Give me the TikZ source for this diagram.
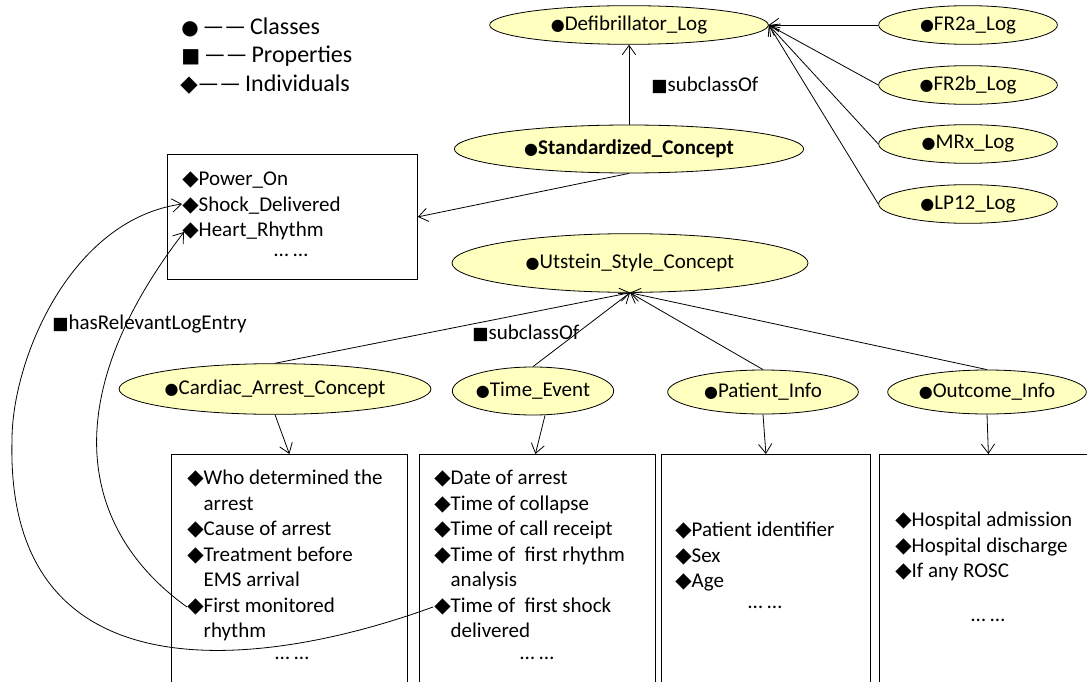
\documentclass[tikz,border=0pt]{standalone}
\usepackage{fontspec}
\setmainfont{Carlito}
\newfontfamily\symfont{DejaVu Sans}
\usetikzlibrary{shapes.geometric, positioning, arrows.meta, calc}

\definecolor{clsfill}{RGB}{255,255,192}
\newcommand\nodefont{\fontsize{15.75}{19.1}\selectfont}
\newcommand\legfont{\fontsize{18}{22}\selectfont}
\newcommand\clsmark{{\symfont\fontsize{12}{12}\selectfont ●}}
\newcommand\propmark{{\symfont\fontsize{13}{13}\selectfont ■}}
\newcommand\indmark{{\symfont\fontsize{16}{16}\selectfont ◆}}

\begin{document}
\begin{tikzpicture}[
    x=0.75pt, y=-0.75pt,
    every node/.style={font=\nodefont},
    class/.style={ellipse, draw, fill=clsfill, inner sep=0pt, line width=0.6pt},
    itembox/.style={rectangle, draw, inner sep=0pt, line width=0.6pt, anchor=north west},
    items/.style={anchor=north west, align=left, inner sep=0pt},
    rel/.style={line width=0.6pt, -{Straight Barb[length=7pt,width=10pt]}}
]
    \useasboundingbox (0,0) rectangle (1087,681);
    \clip (0,0) rectangle (1087,681);

    % legend
    \node[anchor=west, inner sep=0pt, font=\legfont] (legcls) at (181,27) {{\symfont\fontsize{15}{15}\selectfont ●}\,——\,Classes};
    \node[anchor=west, inner sep=0pt, font=\legfont] (legprop) at (181,56) {{\symfont\fontsize{15}{15}\selectfont ■}\,——\,Properties};
    \node[anchor=west, inner sep=0pt, font=\legfont] (legind) at (180,85) {{\symfont\fontsize{17}{17}\selectfont ◆}——\,Individuals};

    % classes
    \node[class, minimum width=209pt, minimum height=29pt] (defib) at (629,25) {\clsmark Defibrillator\_Log};
    \node[class, minimum width=262pt, minimum height=36pt] (std) at (629,149) {\clsmark\textbf{Standardized\_Concept}};
    \node[class, minimum width=134pt, minimum height=29pt] (fr2a) at (968,25) {\clsmark FR2a\_Log};
    \node[class, minimum width=134pt, minimum height=29pt] (fr2b) at (968,85) {\clsmark FR2b\_Log};
    \node[class, minimum width=134pt, minimum height=29pt] (mrx) at (968,144) {\clsmark MRx\_Log};
    \node[class, minimum width=134pt, minimum height=29pt] (lp12) at (968,204) {\clsmark LP12\_Log};
    \node[class, minimum width=267pt, minimum height=44pt] (uts) at (630,263) {\clsmark Utstein\_Style\_Concept};
    \node[class, minimum width=227pt, minimum height=38pt] (cac) at (275,389) {\clsmark Cardiac\_Arrest\_Concept};
    \node[class, minimum width=120pt, minimum height=36pt] (tev) at (533,391) {\clsmark Time\_Event};
    \node[class, minimum width=143pt, minimum height=33pt] (pat) at (763,392) {\clsmark Patient\_Info};
    \node[class, minimum width=149pt, minimum height=33pt] (out) at (987,392) {\clsmark Outcome\_Info};

    % individuals
    \node[itembox, minimum width=187.5pt, minimum height=93.75pt] (logbox) at (167,154) {};
    \node[items] (logitems) at (182,172) {\indmark Power\_On\\\indmark Shock\_Delivered\\\indmark Heart\_Rhythm};
    \node (logdots) at (291,255) {… …};

    \node[itembox, minimum width=177pt, minimum height=190pt] (cabox) at (171,454) {};
    \node[items] (catext) at (187,470) {\indmark Who determined the\\\hphantom{\indmark}arrest\\\indmark Cause of arrest\\\indmark Treatment before\\\hphantom{\indmark}EMS arrival\\\indmark First monitored\\\hphantom{\indmark}rhythm};
    \node (cadots) at (292,658) {… …};

    \node[itembox, minimum width=177pt, minimum height=190pt] (tebox) at (419,454) {};
    \node[items] (tetext) at (434,470) {\indmark Date of arrest\\\indmark Time of collapse\\\indmark Time of call receipt\\\indmark Time of~ first rhythm\\\hphantom{\indmark}analysis\\\indmark Time of~ first shock\\\hphantom{\indmark}delivered};
    \node (tedots) at (537,658) {… …};

    \node[itembox, minimum width=156.75pt, minimum height=190pt] (pibox) at (661,454) {};
    \node[items] (pitext) at (675,522) {\indmark Patient identifier\\\indmark Sex\\\indmark Age};
    \node (pidots) at (765,607) {… …};

    \node[itembox, minimum width=163.5pt, minimum height=190pt] (oibox) at (879,454) {};
    \node[items] (oitext) at (895,512) {\indmark Hospital admission\\\indmark Hospital discharge\\\indmark If any ROSC};
    \node (oidots) at (988,620) {… …};

    % property labels
    \node[anchor=west, inner sep=0pt] (subA) at (651,85) {\propmark subclassOf};
    \node[anchor=west, inner sep=0pt] (subB) at (472,333) {\propmark subclassOf};
    \node[anchor=west, inner sep=0pt] (hasrel) at (52,324) {\propmark hasRelevantLogEntry};

    % entry points
    \coordinate (shockpt) at ($(logitems.north west)+(0,32)$);
    \coordinate (heartpt) at ($(logitems.north west)+(2,60)$);
    \coordinate (firstmon) at ($(catext.north west)+(0,137)$);
    \coordinate (firstshock) at ($(tetext.north west)+(-1,137)$);

    % subclassOf
    \draw[rel] (std) -- (defib);
    \foreach \lg in {fr2a,fr2b,mrx,lp12}
        \draw[rel] (\lg.west) -- (defib.east);
    \draw[rel] (std.south) -- (logbox.east);
    \foreach \sc in {cac,tev,pat,out}
        \draw[rel] (\sc.north) -- (uts.south);
    \draw[rel] (cac.south) -- (cabox.north);
    \draw[rel] ([xshift=9pt]tev.south) -- ([xshift=-1.5pt]tebox.north);
    \draw[rel] (pat.south) -- (pibox.north);
    \draw[rel] (out.south) -- (oibox.north);

    % hasRelevantLogEntry
    \draw[rel] (firstshock) .. controls (260,670) and (5,700) .. (12,440)
        .. controls (12,360) and (70,220) .. (shockpt);
    \draw[rel] (firstmon) .. controls (80,530) and (55,400) .. (heartpt);
\end{tikzpicture}
\end{document}
